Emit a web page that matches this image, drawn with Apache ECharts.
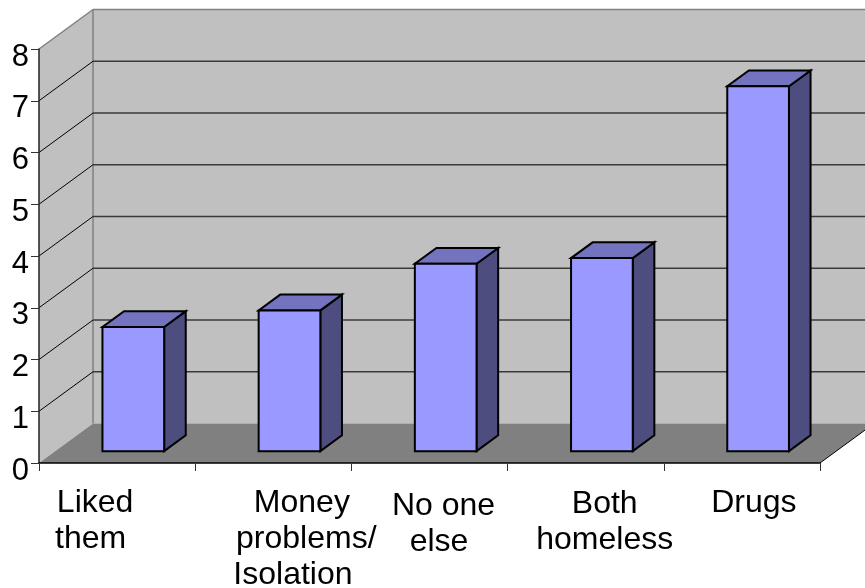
<!DOCTYPE html>
<html><head><meta charset="utf-8">
<style>html,body{margin:0;padding:0;background:#fff}#c{width:865px;height:588px}</style>
<script src="https://cdn.jsdelivr.net/npm/echarts@6/dist/echarts.min.js"></script>
</head><body><div id="c"></div>
<script>
const categories = ['Liked\nthem ', 'Money \nproblems/\nIsolation   ', 'No one\nelse ', 'Both\nhomeless', 'Drugs'];
const values = [2.4, 2.72, 3.62, 3.73, 7.05];
const yTicks = [0, 1, 2, 3, 4, 5, 6, 7, 8];

const DX = 54, DY = 39.5;        // full chart depth in pixels
const Z0 = 0.3, Z1 = 0.7;        // bar position inside that depth
const FONT = '"Liberation Sans", Arial, sans-serif';
const labelNudge = [[-22, 0], [33, 0], [14, 1.5], [19, 0.5], [12, 0]];

const chart = echarts.init(document.getElementById('c'), null, {renderer: 'canvas'});

function poly(points, fill, stroke, lw) {
  return {type: 'polygon', shape: {points}, style: {fill, stroke: stroke || 'none', lineWidth: lw || 0, lineJoin: 'miter'}};
}
function line(x1, y1, x2, y2, stroke, lw) {
  return {type: 'line', shape: {x1, y1, x2, y2}, style: {stroke, lineWidth: lw || 1}};
}

function renderWalls(params, api) {
  const cs = params.coordSys;
  const v = api.value(0);
  const p = api.coord([0, v]);
  const x0 = cs.x, x1 = cs.x + cs.width, y = p[1];
  const children = [];
  if (v === 0) {
    const top = api.coord([0, yTicks[yTicks.length - 1]])[1];
    children.push(poly([[x0 + DX, top - DY], [x1 + DX, top - DY], [x1 + DX, y - DY], [x0 + DX, y - DY]], '#c0c0c0'));
    children.push(poly([[x0, top], [x0 + DX, top - DY], [x0 + DX, y - DY], [x0, y]], '#c0c0c0'));
    children.push(poly([[x0, y], [x0 + DX, y - DY], [x1 + DX, y - DY], [x1, y]], '#808080'));
    children.push(line(x1, y, x1 + DX, y - DY, '#000', 1));
    children.push(line(x0 + DX, top - DY, x0 + DX, y - DY, '#808080', 1.5));
  } else {
    const last = v === yTicks[yTicks.length - 1];
    children.push(line(x0, y, x0 + DX, y - DY, last ? '#808080' : '#000', last ? 1.5 : 1));
    children.push(line(x0 + DX, y - DY, x1 + DX, y - DY, last ? '#808080' : '#3a3a3a', 1.5));
  }
  return {type: 'group', children};
}

function renderBar(params, api) {
  const i = api.value(0), v = api.value(1);
  const w = api.size([1, 0])[0] * 0.395;
  const b = api.coord([i, 0]), t = api.coord([i, v]);
  const ox = DX * Z0, oy = -DY * Z0;
  const dx = DX * (Z1 - Z0), dy = -DY * (Z1 - Z0);
  const l = b[0] + ox - w / 2, r = l + w, yb = b[1] + oy, yt = t[1] + oy;
  const s = '#000', lw = 2;
  return {type: 'group', children: [
    poly([[r, yb], [r + dx, yb + dy], [r + dx, yt + dy], [r, yt]], '#4d4d80', s, lw),
    poly([[l, yt], [r, yt], [r + dx, yt + dy], [l + dx, yt + dy]], '#7373bf', s, lw),
    poly([[l, yb], [r, yb], [r, yt], [l, yt]], '#9999ff', s, lw)
  ]};
}

chart.setOption({
  animation: false,
  backgroundColor: '#fff',
  grid: {left: 39, top: 49, width: 781, height: 414, containLabel: false, outerBoundsMode: 'none'},
  xAxis: {
    type: 'category', z: 5,
    data: categories.map((c, i) => {
      const n = labelNudge[i];
      return {value: c, textStyle: {padding: n[0] >= 0 ? [n[1] * 2, 0, 0, n[0] * 2] : [n[1] * 2, -n[0] * 2, 0, 0]}};
    }),
    axisLine: {show: true, lineStyle: {color: '#000', width: 1.5}},
    axisTick: {show: true, alignWithLabel: false, length: 8, lineStyle: {color: '#333', width: 1}},
    axisLabel: {show: true, interval: 0, margin: 22, fontSize: 32, lineHeight: 36, color: '#000', fontFamily: FONT, hideOverlap: false},
    splitLine: {show: false}
  },
  yAxis: {
    type: 'value', min: 0, max: 8, interval: 1, z: 5,
    axisLine: {show: true, lineStyle: {color: '#222', width: 1.5}},
    axisTick: {show: true, length: 8, lineStyle: {color: '#333', width: 1}},
    axisLabel: {margin: 10, fontSize: 31, color: '#000', fontFamily: FONT, verticalAlign: 'top', lineHeight: 16},
    splitLine: {show: false}
  },
  series: [
    {type: 'custom', name: 'walls', coordinateSystem: 'cartesian2d', clip: false, z: 1, silent: true,
     encode: {y: 0}, data: yTicks.map(v => [v]), renderItem: renderWalls},
    {type: 'custom', name: 'bars', coordinateSystem: 'cartesian2d', clip: false, z: 2,
     encode: {x: 0, y: 1}, data: values.map((v, i) => [i, v]), renderItem: renderBar}
  ]
});
</script></body></html>
